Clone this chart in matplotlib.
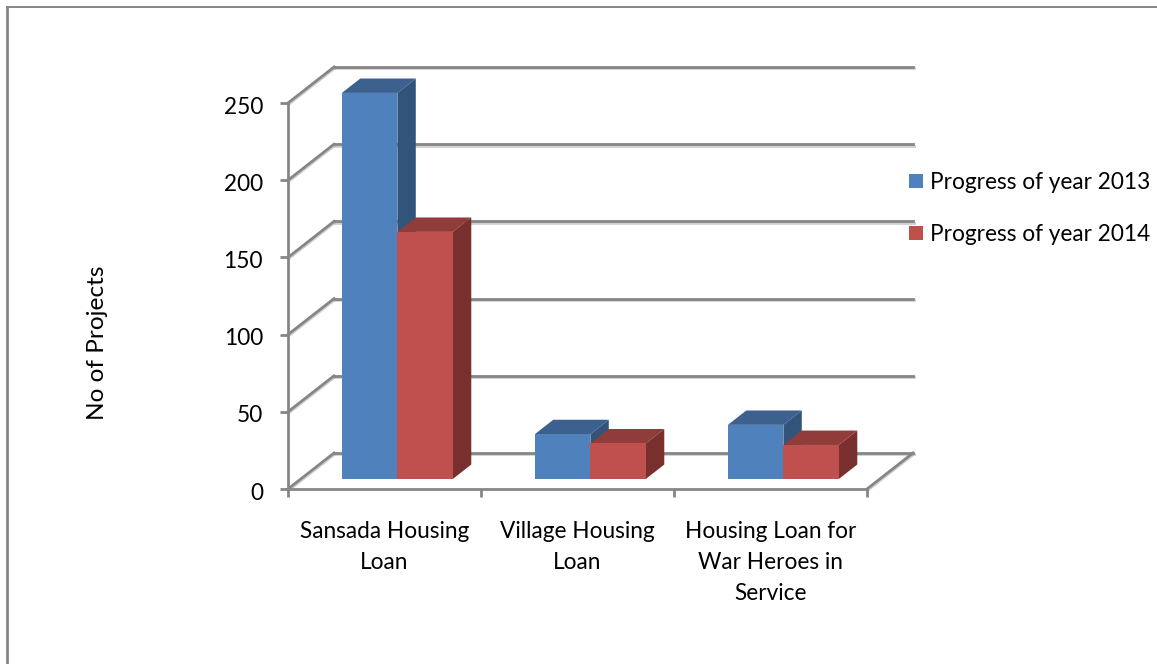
import matplotlib
matplotlib.use("Agg")
import matplotlib.pyplot as plt
import matplotlib.patheffects as pe
from matplotlib.lines import Line2D
from matplotlib.patches import Patch, Polygon
from matplotlib.transforms import ScaledTranslation

categories = ["Sansada Housing\nLoan", "Village Housing\nLoan", "Housing Loan for\nWar Heroes in\nService"]
progress_2013 = [250, 29, 35]
progress_2014 = [160, 23, 22]
y_ticks = [0, 50, 100, 150, 200, 250]
series_names = ["Progress of year 2013", "Progress of year 2014"]

W, H = 1157, 664
GRID = "#868686"
FONT_SIZE = 16.3
# front, top, side
BLUE = ("#4F81BD", "#3C618E", "#32547B")
RED = ("#C0504D", "#8F3C3A", "#792F2E")

plt.rcParams["font.family"] = ["Lato", "DejaVu Sans"]

# 3d look: how far the back wall sits from the front plane, in data units
DEPTH_X = 46 / (579 / 3)
DEPTH_Y = 36 / (386 / 250)
BAR_W = 55.5 / (579 / 3)
BAR_D0, BAR_D1 = 0.28, 0.68


def proj(x, v, d):
    return (x + d * DEPTH_X, v + d * DEPTH_Y)


def draw_bar(ax, x0, value, cols):
    x1 = x0 + BAR_W
    top = [proj(x0, value, BAR_D0), proj(x1, value, BAR_D0), proj(x1, value, BAR_D1), proj(x0, value, BAR_D1)]
    side = [proj(x1, 0, BAR_D0), proj(x1, value, BAR_D0), proj(x1, value, BAR_D1), proj(x1, 0, BAR_D1)]
    front = [proj(x0, 0, BAR_D0), proj(x1, 0, BAR_D0), proj(x1, value, BAR_D0), proj(x0, value, BAR_D0)]
    ax.add_patch(Polygon(top, closed=True, fc=cols[1], ec="none", zorder=3, clip_on=False))
    ax.add_patch(Polygon(side, closed=True, fc=cols[2], ec="none", zorder=3, clip_on=False))
    ax.add_patch(Polygon(front, closed=True, fc=cols[0], ec="none", zorder=3, clip_on=False))


fig = plt.figure(figsize=(W / 100, H / 100), dpi=100, facecolor="white")
ax = fig.add_axes([288 / W, (H - 489) / H, 579 / W, 386 / H])
ax.set_xlim(0, 3)
ax.set_ylim(0, 250)
ax.patch.set_visible(False)

shadow = [pe.SimpleLineShadow(offset=(0.4, -1.0), shadow_color="#a0a0a0", alpha=0.5), pe.Normal()]

# wall gridlines and the floor edge
for v in y_ticks:
    bx, by = proj(0, v, 1)
    ex, ey = proj(3, v, 1)
    ax.plot([0, bx], [v, by], color=GRID, lw=2.0, clip_on=False, zorder=1, path_effects=shadow)
    ax.plot([bx, ex], [by, ey], color=GRID, lw=2.0, clip_on=False, zorder=1, path_effects=shadow)
ex, ey = proj(3, 0, 1)
ax.plot([3, ex], [0, ey], color=GRID, lw=2.0, clip_on=False, zorder=1, path_effects=shadow)

for i in range(len(categories)):
    draw_bar(ax, i + 0.5 - BAR_W, progress_2013[i], BLUE)
    draw_bar(ax, i + 0.5, progress_2014[i], RED)

for s in ["top", "right"]:
    ax.spines[s].set_visible(False)
for s in ["left", "bottom"]:
    ax.spines[s].set_color(GRID)
    ax.spines[s].set_linewidth(2.0)

ax.set_yticks(y_ticks)
ax.set_xticks([0, 1, 2, 3])
ax.set_xticklabels([])
ax.set_xticks([0.5, 1.5, 2.5], minor=True)
ax.set_xticklabels(categories, minor=True, fontsize=FONT_SIZE, color="#000000", linespacing=1.6, ha="center", va="top")
ax.tick_params(axis="y", length=6, width=2.0, color=GRID, labelsize=FONT_SIZE, pad=12)
ax.tick_params(axis="x", which="major", length=6, width=2.0, color=GRID)
ax.tick_params(axis="x", which="minor", length=0, pad=23)

# tick numbers sit a little under their tick marks
nudge = ScaledTranslation(0, -2 / 100, fig.dpi_scale_trans)
for lab in ax.get_yticklabels():
    lab.set_transform(lab.get_transform() + nudge)

ax.set_ylabel("No of Projects", fontsize=17.6)
ax.yaxis.set_label_coords((108 - 288) / 579, (489 - 343) / 386)

handles = [Patch(fc=BLUE[0], ec="none"), Patch(fc=RED[0], ec="none")]
fig.legend(handles, series_names, loc="center left", bbox_to_anchor=(909 / W, (H - 208.5) / H),
           frameon=False, fontsize=FONT_SIZE, labelspacing=1.36, handlelength=0.62, handleheight=0.62,
           handletextpad=0.31, borderpad=0, borderaxespad=0)

# outer frame of the chart area, only top and left fall inside the picture
fig.add_artist(Line2D([7 / W, 7 / W], [0, 1 - 7 / H], color=GRID, lw=2.0))
fig.add_artist(Line2D([7 / W, 1], [1 - 7 / H, 1 - 7 / H], color=GRID, lw=1.4))

fig.savefig("out.png", dpi=100, facecolor="white")
